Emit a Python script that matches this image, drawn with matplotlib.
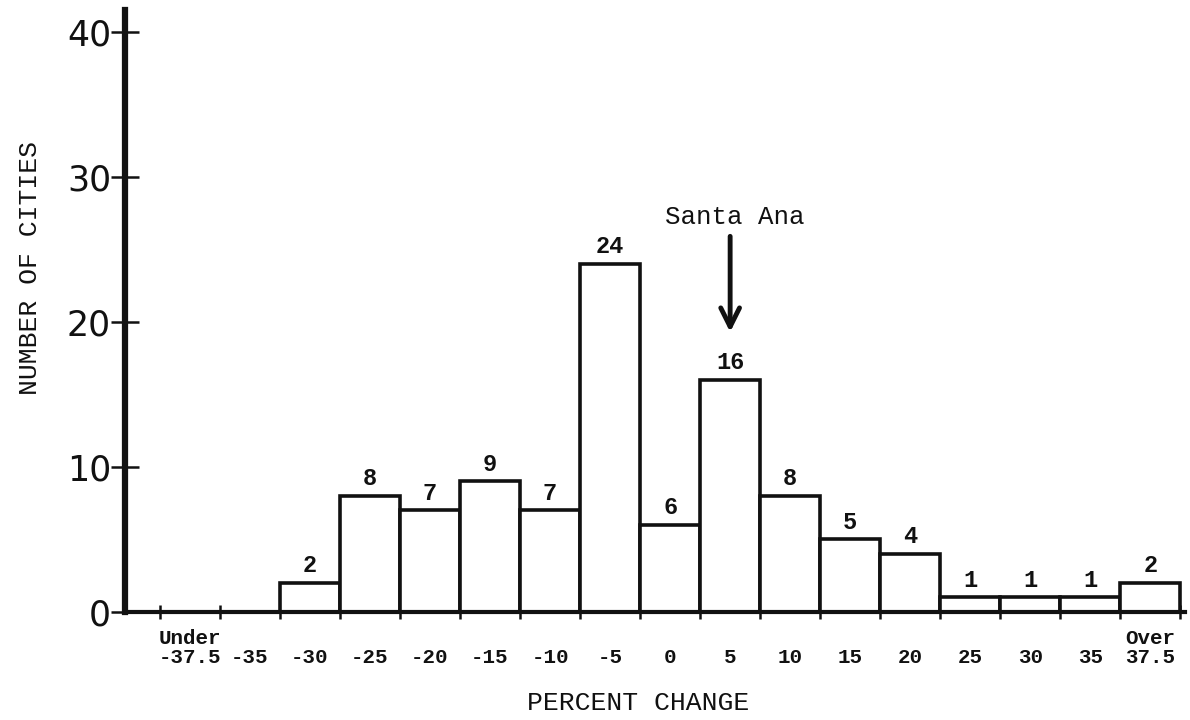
import matplotlib
matplotlib.use("Agg")
import matplotlib.pyplot as plt
from matplotlib.transforms import blended_transform_factory

# Percent change classes (5-point bins) and number of cities in each
categories = ["Under\n-37.5", "-35", "-30", "-25", "-20", "-15", "-10", "-5",
              "0", "5", "10", "15", "20", "25", "30", "35", "Over\n37.5"]
bin_centers = [-40, -35, -30, -25, -20, -15, -10, -5, 0, 5, 10, 15, 20, 25, 30, 35, 40]
counts = [0, 0, 2, 8, 7, 9, 7, 24, 6, 16, 8, 5, 4, 1, 1, 1, 2]

highlight_city = "Santa Ana"
highlight_bin = 5

y_ticks = [0, 10, 20, 30, 40]

BIN_WIDTH = 5
TYPE_FONT = "Liberation Mono"
INK = "#111111"

fig = plt.figure(figsize=(11.9, 7.2), dpi=100)
ax = fig.add_axes([0.105, 0.15, 0.891, 0.836])

# Histogram bars: white boxes with heavy black outlines (empty classes are not drawn)
for c, n in zip(bin_centers, counts):
    if n == 0:
        continue
    ax.bar(c, n, width=BIN_WIDTH, facecolor="white", edgecolor=INK,
           linewidth=2.6, zorder=2)
    ax.annotate(str(n), xy=(c, n), xytext=(0, 4), textcoords="offset points",
                ha="center", va="bottom", fontsize=17, family=TYPE_FONT,
                fontweight="bold", color=INK)

ax.set_xlim(-45.4, 42.9)
ax.set_ylim(0, 41.5)

# Axes: thick lines on the left and bottom only
for side in ("top", "right"):
    ax.spines[side].set_visible(False)
ax.spines["left"].set_linewidth(4.5)
ax.spines["bottom"].set_linewidth(3)
ax.spines["left"].set_color(INK)
ax.spines["bottom"].set_color(INK)

ax.set_yticks(y_ticks)
ax.set_yticklabels([str(t) for t in y_ticks], fontsize=25, family="DejaVu Sans",
                   color=INK)
ax.tick_params(axis="y", direction="inout", length=20, width=1.8, pad=0,
               color=INK)

# Class boundary tick marks along the baseline
edges = [c - BIN_WIDTH / 2 for c in bin_centers] + [bin_centers[-1] + BIN_WIDTH / 2]
ax.set_xticks(edges)
ax.set_xticklabels([])
ax.tick_params(axis="x", direction="inout", length=10, width=1.8, color=INK)

# Class labels under each bin
trans = blended_transform_factory(ax.transData, ax.transAxes)
for c, lab in zip(bin_centers, categories):
    ax.text(c, -0.092, lab, transform=trans, ha="center", va="bottom",
            fontsize=15, family=TYPE_FONT, fontweight="bold", color=INK,
            linespacing=1.0)

# Annotation pointing at the bin containing Santa Ana
ax.text(highlight_bin + 0.4, 27.2, highlight_city, ha="center", va="center",
        fontsize=18.5, family=TYPE_FONT, color=INK)
ax.annotate("", xy=(highlight_bin, 19.3), xytext=(highlight_bin, 25.9),
            arrowprops=dict(arrowstyle="->,head_length=0.9,head_width=0.45",
                            lw=3.5, color=INK, mutation_scale=15,
                            shrinkA=0, shrinkB=0))

fig.text(0.536, 0.024, "PERCENT CHANGE", ha="center", va="center",
         fontsize=19, family=TYPE_FONT, color=INK)
fig.text(0.025, 0.628, "NUMBER OF CITIES", ha="center", va="center", rotation=90,
         fontsize=19, family=TYPE_FONT, color=INK)

fig.savefig("out.png", dpi=100, facecolor="white")
